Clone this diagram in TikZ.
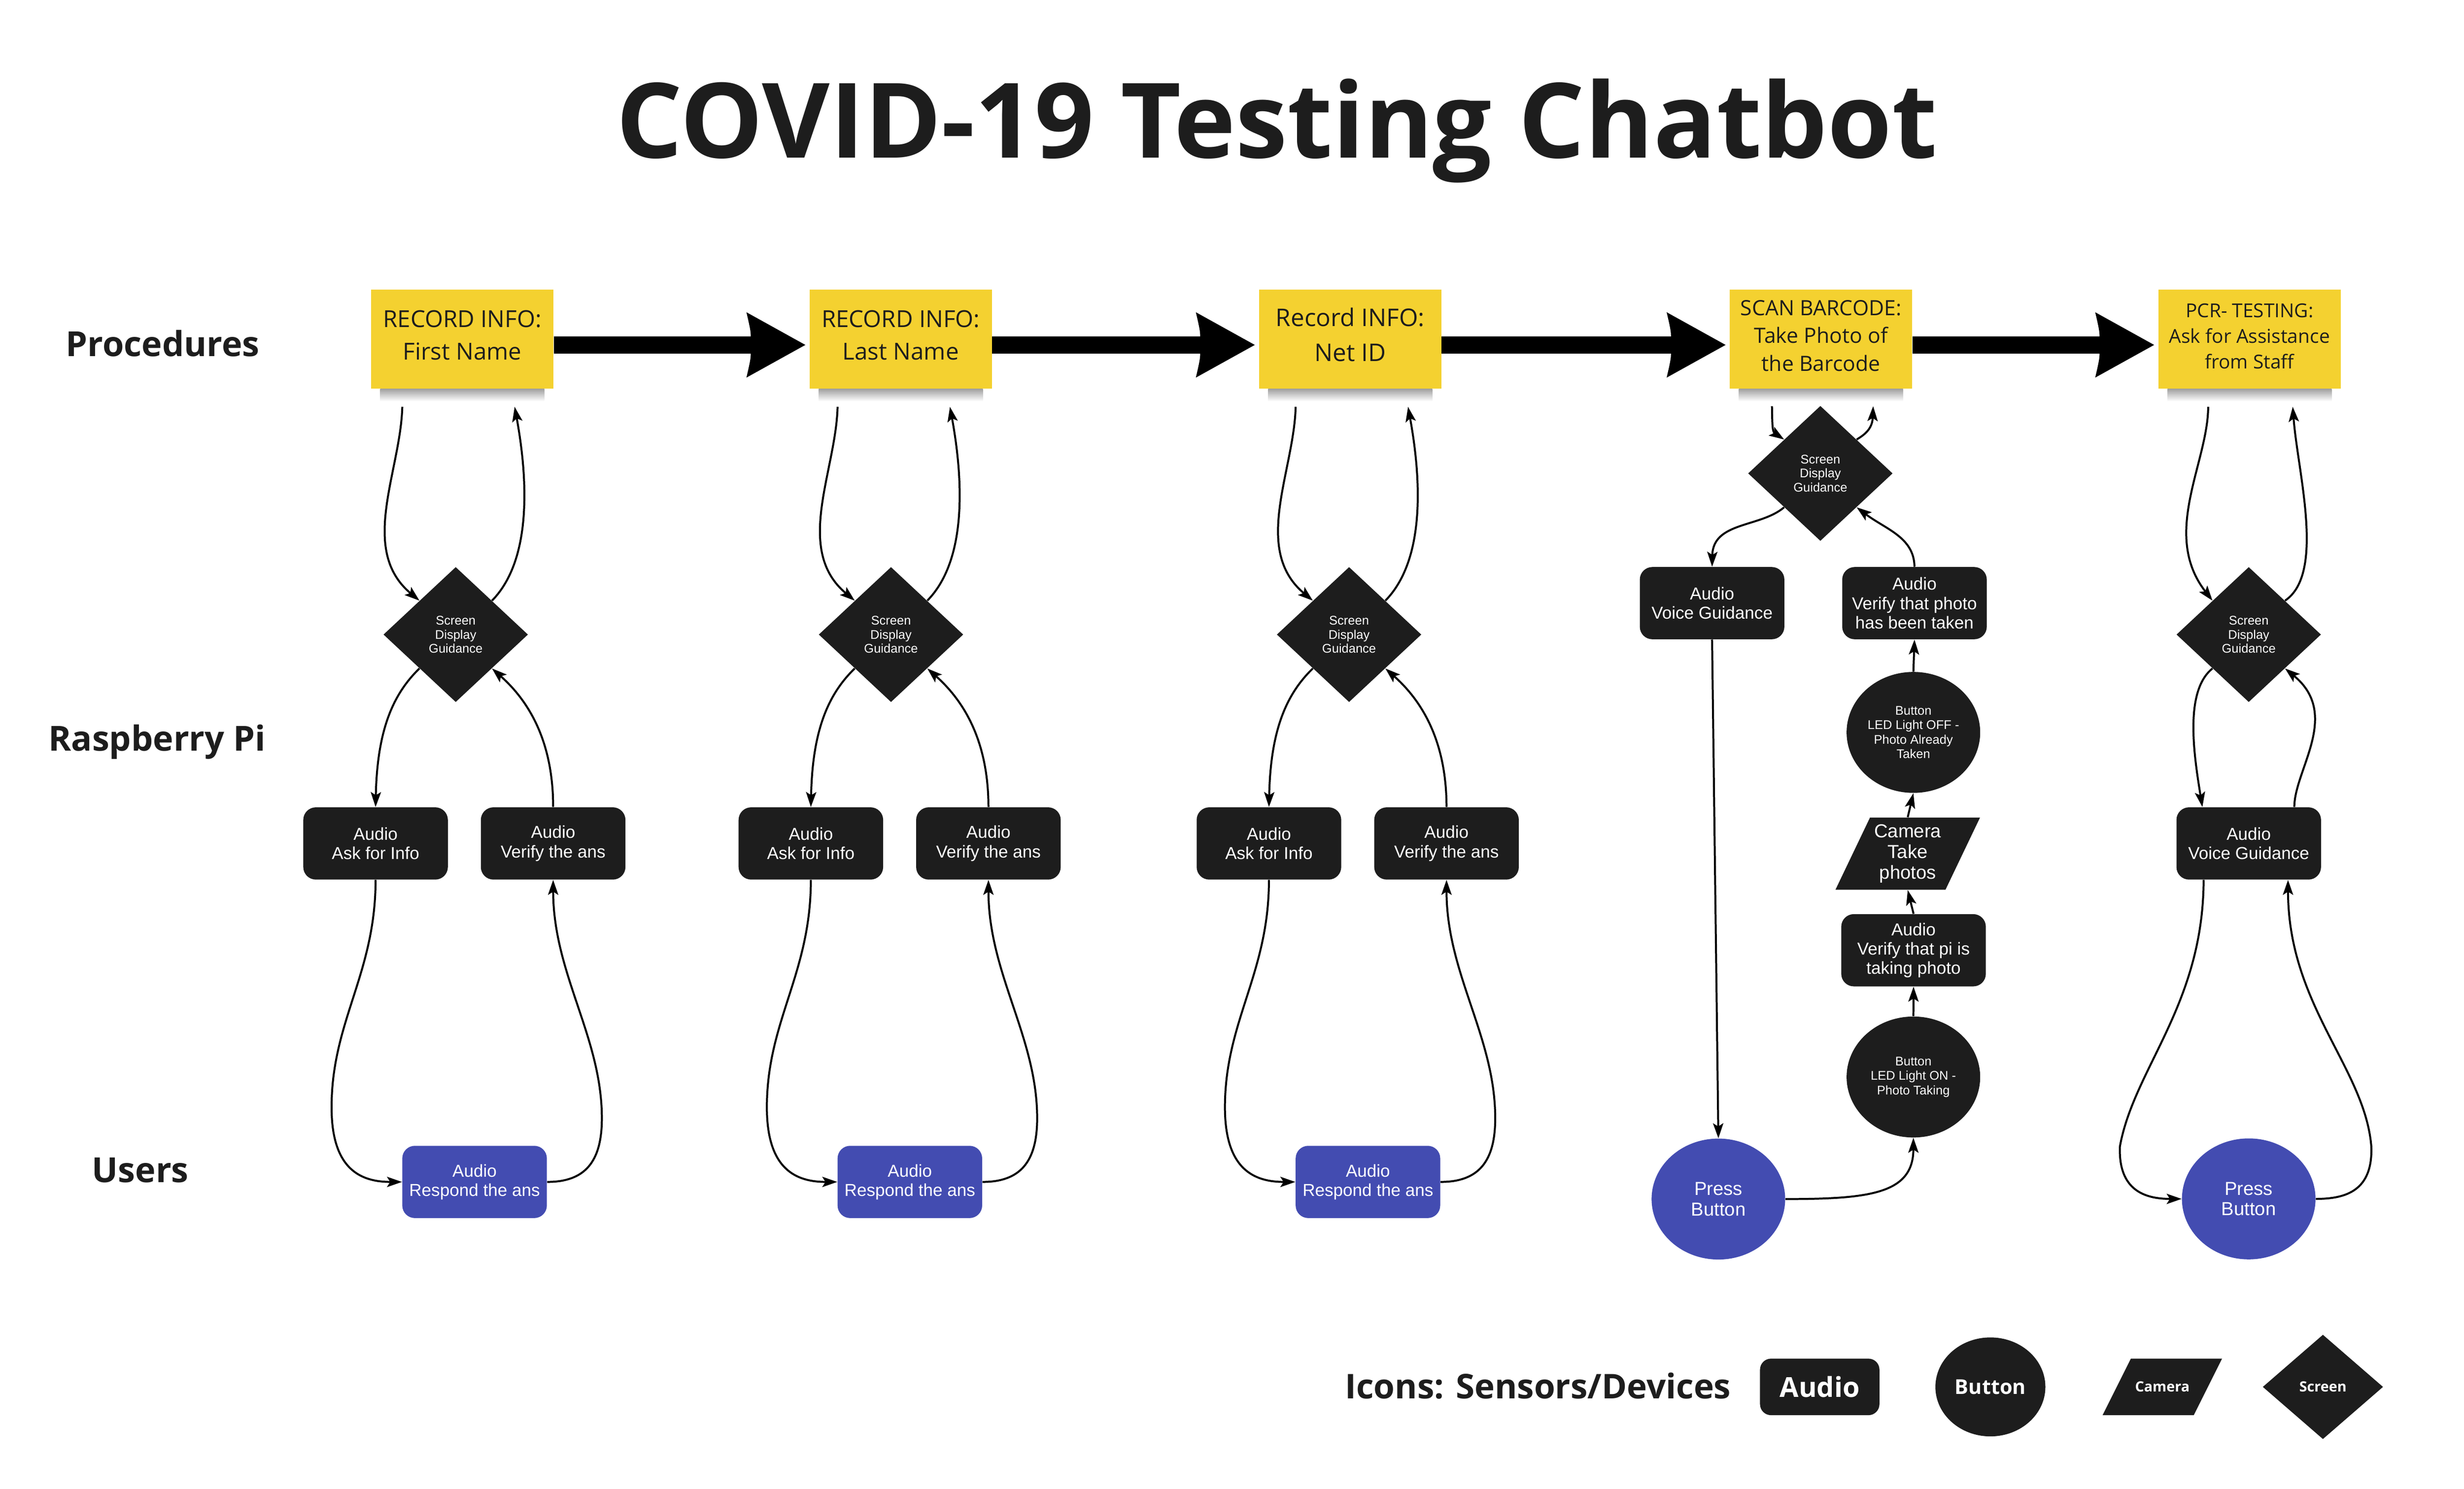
\documentclass[tikz,border=0pt]{standalone}
\usepackage{fontspec}
\setmainfont{Liberation Sans}
\newfontfamily\osans{Open Sans}
\usetikzlibrary{shapes.geometric,arrows.meta,calc}
\definecolor{ink}{RGB}{29,29,29}
\definecolor{yel}{RGB}{244,209,48}
\definecolor{ublue}{RGB}{67,76,177}
\tikzset{
  sticky/.style={fill=yel, minimum width=116pt, minimum height=63pt, inner sep=0pt},
  stxt/.style={align=center, text=ink, inner sep=0pt},
  blk/.style={fill=ink, text=white, rounded corners=8pt, minimum width=92pt, minimum height=46pt,
    inner sep=0pt, align=center, font=\fontsize{11}{12.3}\selectfont},
  usr/.style={blk, fill=ublue},
  scr/.style={diamond, fill=ink, text=white, minimum width=92pt, minimum height=86pt, inner sep=0pt,
    align=center, font=\fontsize{8}{9}\selectfont},
  btn/.style={ellipse, fill=ink, text=white, minimum width=85pt, minimum height=77pt, inner sep=0pt,
    align=center, font=\fontsize{8}{9.2}\selectfont},
  pbtn/.style={btn, fill=ublue, font=\fontsize{12}{13}\selectfont},
  camtxt/.style={text=white, minimum width=70pt, minimum height=46pt, inner sep=0pt, align=center,
    font=\fontsize{12}{13.3}\selectfont},
  conn/.style={line width=1.25pt, -{Stealth[length=9.5pt,width=6.5pt,inset=2pt]}},
  rowlab/.style={anchor=base, text=ink, font=\osans\bfseries\fontsize{22}{24}\selectfont},
  leg/.style={text=white, inner sep=0pt, align=center},
}
\newcommand\BigArrow[2]{%
  \draw[line width=11pt] ([yshift=-3.8pt]#1.east) -- ([xshift=-35pt,yshift=-3.8pt]#2.west);
  \fill ([xshift=-2.5pt,yshift=-3.8pt]#2.west) -- ([xshift=-40pt,yshift=17pt]#2.west)
    .. controls ([xshift=-37pt,yshift=4pt]#2.west) .. ([xshift=-37.5pt,yshift=-3.8pt]#2.west)
    .. controls ([xshift=-37pt,yshift=-11.6pt]#2.west) .. ([xshift=-40pt,yshift=-24.6pt]#2.west) -- cycle;}
\newcommand\StickyShadow[1]{%
  \shade[top color=black!38, bottom color=white] ([xshift=6pt]#1.south west) rectangle ([xshift=-6pt,yshift=-8pt]#1.south east);}
\begin{document}
\begin{tikzpicture}[x=1pt,y=-1pt]
\useasboundingbox[fill=white] (0,0) rectangle (1568,948);

% title
\node[anchor=base, text=ink, inner sep=0pt, font=\osans\bfseries\fontsize{66.3}{70}\selectfont] (title) at (812.5,100.4) {COVID-19 Testing Chatbot};

% row labels
\node[rowlab] (lproc) at (103.5,227) {Procedures};
\node[rowlab] (lpi) at (100,478) {Raspberry Pi};
\node[rowlab] (lusr) at (89.3,752.8) {Users};

% sticky notes
\node[sticky] (s1) at (294.2,215.8) {};
\node[sticky] (s2) at (573.2,215.8) {};
\node[sticky] (s3) at (859.2,215.8) {};
\node[sticky] (s4) at (1158.8,215.8) {};
\node[sticky] (s5) at (1431.5,215.8) {};
\foreach \s in {s1,s2,s3,s4,s5} {\StickyShadow{\s}}
\node[stxt, font=\osans\fontsize{14.9}{20.6}\selectfont] (s1t) at (294.2,213.4) {RECORD INFO:\\First Name};
\node[stxt, font=\osans\fontsize{14.9}{20.6}\selectfont] (s2t) at (573.2,213.4) {RECORD INFO:\\Last Name};
\node[stxt, font=\osans\fontsize{15.5}{22.4}\selectfont] (s3t) at (859.2,213) {Record INFO:\\Net ID};
\node[stxt, font=\osans\fontsize{13.4}{17.7}\selectfont] (s4t) at (1158.8,213.7) {SCAN BARCODE:\\Take Photo of\\the Barcode};
\node[stxt, font=\osans\fontsize{12.2}{16.2}\selectfont] (s5t) at (1431.5,214.1) {PCR- TESTING:\\Ask for Assistance\\from Staff};

% big arrows
\BigArrow{s1}{s2}
\BigArrow{s2}{s3}
\BigArrow{s3}{s4}
\BigArrow{s4}{s5}

% columns 1-3
\foreach \i/\bx in {1/290, 2/567, 3/858.5} {
  \node[scr] (d\i) at (\bx,404) {Screen\\Display\\Guidance};
  \node[blk] (a\i) at (\bx-51,537) {Audio\\Ask for Info};
  \node[blk] (v\i) at (\bx+62,537) {Audio\\Verify the ans};
  \node[usr] (r\i) at (\bx+12,752.5) {Audio\\Respond the ans};
  \coordinate (o\i) at (\bx-34,259);
  \coordinate (t\i) at (\bx+37.5,259);
  \draw[conn] (o\i) .. controls (\bx-35,300) and (\bx-62,350) .. (d\i.north west);
  \draw[conn] (d\i.north east) .. controls (\bx+50,355) and (\bx+45,300) .. (t\i);
  \draw[conn] (d\i.south west) .. controls (\bx-40,442) and (\bx-50,465) .. (a\i.north);
  \draw[conn] (v\i.north) .. controls (\bx+62,470) and (\bx+45,445) .. (d\i.south east);
  \draw[conn] (a\i.south) .. controls (\bx-51,620) and (\bx-79,650) .. (\bx-79,705)
     .. controls (\bx-79,745) and (\bx-60,752.5) .. (r\i.west);
  \draw[conn] (r\i.east) .. controls (\bx+82,752.5) and (\bx+93,740) .. (\bx+93,712)
     .. controls (\bx+93,660) and (\bx+62,620) .. (v\i.south);
}

% column 4
\node[scr] (d4) at (1158.4,301.4) {Screen\\Display\\Guidance};
\node[blk] (vg4) at (1089.5,384) {Audio\\Voice Guidance};
\node[blk] (vp4) at (1218.3,384) {Audio\\Verify that photo\\has been taken};
\node[btn] (off4) at (1217.6,466.3) {Button\\LED Light OFF -\\Photo Already\\Taken};
\coordinate (camc) at (1214,543.5);
\fill[ink] ($(camc)+(-24,-23)$) -- ($(camc)+(46,-23)$) -- ($(camc)+(24,23)$) -- ($(camc)+(-46,23)$) -- cycle;
\node[camtxt] (cam) at (camc) {Camera\\Take\\photos};
\node[blk] (vpi4) at (1217.7,605) {Audio\\Verify that pi is\\taking photo};
\node[btn] (on4) at (1217.6,685.7) {Button\\LED Light ON -\\Photo Taking};
\node[pbtn] (pb4) at (1093.5,763.4) {Press\\Button};
\coordinate (o4) at (1127.6,258.6);
\coordinate (t4) at (1192,258.6);
\draw[conn] (o4) .. controls (1127.8,272) and (1128,275) .. (d4.north west);
\draw[conn] (d4.north east) .. controls (1188,276) and (1191.5,272) .. (t4);
\draw[conn] (d4.south west) .. controls (1120,336) and (1090,332) .. (vg4.north);
\draw[conn] (vp4.north) .. controls (1218,342) and (1200,337) .. (d4.south east);
\draw[conn] (off4.north) -- (vp4.south);
\draw[conn] (cam.north) -- (off4.south);
\draw[conn] (vpi4.north) -- (cam.south);
\draw[conn] (on4.north) -- (vpi4.south);
\draw[conn] (pb4.east) .. controls (1190,763.4) and (1217.6,760) .. (on4.south);
\draw[conn] (vg4.south) -- (pb4.north);

% column 5
\node[scr] (d5) at (1431,404) {Screen\\Display\\Guidance};
\node[blk] (vg5) at (1431,537) {Audio\\Voice Guidance};
\node[pbtn] (pb5) at (1431,763.3) {Press\\Button};
\coordinate (o5) at (1405.2,259);
\coordinate (t5) at (1459,259);
\draw[conn] (o5) .. controls (1405,295) and (1375,340) .. (d5.north west);
\draw[conn] (d5.north east) .. controls (1480,365) and (1462,300) .. (t5);
\draw[conn] (d5.south west) .. controls (1390,440) and (1396,480) .. ([xshift=-29.5pt]vg5.north);
\draw[conn] ([xshift=29pt]vg5.north) .. controls (1460,490) and (1490,455) .. (d5.south east);
\draw[conn] ([xshift=-28.7pt]vg5.south) .. controls (1402,640) and (1358,680) .. (1349,730)
   .. controls (1348,758) and (1365,763.3) .. (pb5.west);
\draw[conn] (pb5.east) .. controls (1493,763.3) and (1510,758) .. (1509,730)
   .. controls (1505,680) and (1456,640) .. ([xshift=25pt]vg5.south);

% legend
\node[anchor=base, text=ink, inner sep=0pt, font=\osans\bfseries\fontsize{21.7}{24}\selectfont] (legt) at (978.7,890.3) {Icons: Sensors/Devices};
\node[fill=ink, rounded corners=7pt, minimum width=76pt, minimum height=36pt, inner sep=0pt, text=white,
  font=\osans\bfseries\fontsize{17.5}{20}\selectfont] (lgaud) at (1158,883) {Audio};
\node[ellipse, fill=ink, minimum width=70pt, minimum height=63pt, inner sep=0pt, text=white,
  font=\osans\bfseries\fontsize{13}{15}\selectfont] (lgbtn) at (1266.6,883) {Button};
\coordinate (lgcc) at (1376,883);
\fill[ink] ($(lgcc)+(-20,-18)$) -- ($(lgcc)+(38,-18)$) -- ($(lgcc)+(20,18)$) -- ($(lgcc)+(-38,18)$) -- cycle;
\node[leg, font=\osans\bfseries\fontsize{9}{11}\selectfont] (lgcam) at (lgcc) {Camera};
\node[diamond, fill=ink, minimum width=76.6pt, minimum height=66.5pt, inner sep=0pt, text=white,
  font=\osans\bfseries\fontsize{9}{11}\selectfont] (lgscr) at (1478.2,883) {Screen};
\end{tikzpicture}
\end{document}
